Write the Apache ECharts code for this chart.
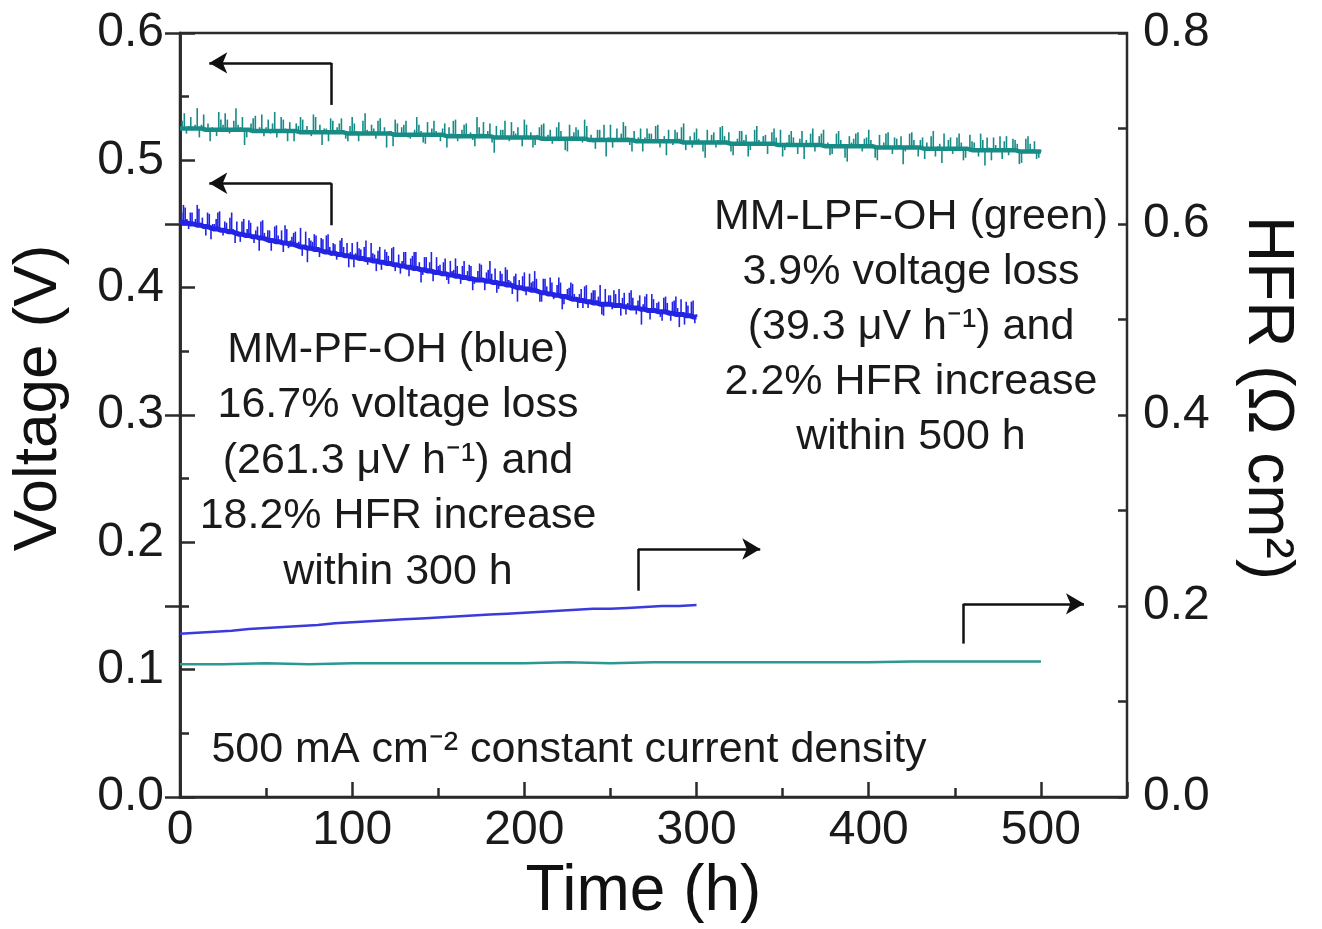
<!DOCTYPE html>
<html><head><meta charset="utf-8">
<script src="https://cdn.jsdelivr.net/npm/echarts@6/dist/echarts.min.js"></script>
<style>html,body{margin:0;padding:0;background:#fff}#c{width:1322px;height:929px}</style>
</head><body><div id="c"></div>
<script>
// ---- data ----
const timeTicks = [0, 100, 200, 300, 400, 500];
const voltageTicks = [0.0, 0.1, 0.2, 0.3, 0.4, 0.5, 0.6];
const hfrTicks = [0.0, 0.2, 0.4, 0.6, 0.8];

// MM-LPF-OH (green) cell voltage: [time h, baseline V, spike extreme V]
const greenVoltage = [[0,.525,.525],[2.5,.525,.537],[5,.525,.527],[7.5,.525,.524],[10,.525,.541],[12.5,.525,.528],[15,.524,.524],[17.5,.524,.515],[20,.524,.525],[22.5,.524,.538],[25,.524,.528],[27.5,.524,.532],[30,.524,.523],[32.5,.524,.541],[35,.524,.526],[37.5,.524,.512],[40,.524,.524],[42.5,.523,.533],[45,.523,.524],[47.5,.523,.536],
[50,.523,.526],[52.5,.523,.521],[55,.523,.538],[57.5,.523,.523],[60,.523,.532],[62.5,.523,.515],[65,.523,.524],[67.5,.523,.529],[70,.522,.534],[72.5,.522,.524],[75,.522,.521],[77.5,.522,.536],[80,.522,.522],[82.5,.522,.512],[85,.522,.525],[87.5,.522,.533],[90,.522,.523],[92.5,.522,.529],[95,.522,.522],[97.5,.521,.515],
[100,.521,.534],[102.5,.521,.523],[105,.521,.521],[107.5,.521,.537],[110,.521,.520],[112.5,.521,.525],[115,.521,.531],[117.5,.521,.521],[120,.521,.510],[122.5,.521,.523],[125,.520,.532],[127.5,.520,.521],[130,.520,.528],[132.5,.520,.518],[135,.520,.520],[137.5,.520,.534],[140,.520,.523],[142.5,.520,.513],[145,.520,.521],[147.5,.520,.531],
[150,.520,.520],[152.5,.520,.525],[155,.519,.510],[157.5,.519,.521],[160,.519,.532],[162.5,.519,.520],[165,.519,.528],[167.5,.519,.519],[170,.519,.516],[172.5,.519,.534],[175,.519,.521],[177.5,.519,.519],[180,.519,.529],[182.5,.518,.506],[185,.518,.519],[187.5,.518,.524],[190,.518,.518],[192.5,.518,.530],[195,.518,.521],[197.5,.518,.517],
[200,.518,.532],[202.5,.518,.518],[205,.518,.510],[207.5,.518,.520],[210,.517,.528],[212.5,.517,.518],[215,.517,.524],[217.5,.517,.516],[220,.517,.530],[222.5,.517,.517],[225,.517,.507],[227.5,.517,.519],[230,.517,.526],[232.5,.517,.518],[235,.517,.532],[237.5,.516,.516],[240,.516,.514],[242.5,.516,.524],[245,.516,.518],[247.5,.516,.503],
[250,.516,.528],[252.5,.516,.517],[255,.516,.516],[257.5,.516,.530],[260,.516,.518],[262.5,.516,.507],[265,.515,.515],[267.5,.515,.525],[270,.515,.518],[272.5,.515,.521],[275,.515,.514],[277.5,.515,.528],[280,.515,.515],[282.5,.515,.504],[285,.515,.516],[287.5,.515,.524],[290,.515,.517],[292.5,.514,.529],[295,.514,.514],[297.5,.514,.510],
[300,.514,.525],[302.5,.514,.515],[305,.514,.502],[307.5,.514,.514],[310,.514,.522],[312.5,.514,.516],[315,.514,.527],[317.5,.514,.514],[320,.513,.507],[322.5,.513,.514],[325,.513,.523],[327.5,.513,.516],[330,.513,.503],[332.5,.513,.513],[335,.513,.527],[337.5,.513,.514],[340,.513,.520],[342.5,.513,.512],[345,.513,.525],[347.5,.512,.512],
[350,.512,.503],[352.5,.512,.514],[355,.512,.523],[357.5,.512,.512],[360,.512,.517],[362.5,.512,.501],[365,.512,.513],[367.5,.512,.525],[370,.512,.512],[372.5,.512,.521],[375,.511,.513],[377.5,.511,.504],[380,.511,.511],[382.5,.511,.523],[385,.511,.512],[387.5,.511,.499],[390,.511,.514],[392.5,.511,.521],[395,.511,.511],[397.5,.511,.517],
[400,.511,.524],[402.5,.511,.510],[405,.510,.500],[407.5,.510,.511],[410,.510,.521],[412.5,.510,.510],[415,.510,.518],[417.5,.510,.512],[420,.510,.497],[422.5,.510,.510],[425,.510,.522],[427.5,.510,.511],[430,.510,.516],[432.5,.509,.501],[435,.509,.509],[437.5,.509,.523],[440,.509,.511],[442.5,.509,.498],[445,.509,.510],[447.5,.509,.518],
[450,.509,.509],[452.5,.509,.521],[455,.509,.500],[457.5,.509,.510],[460,.508,.515],[462.5,.508,.508],[465,.508,.521],[467.5,.508,.496],[470,.508,.510],[472.5,.508,.518],[475,.508,.508],[477.5,.508,.501],[480,.508,.519],[482.5,.508,.509],[485,.508,.516],[487.5,.507,.497],[490,.507,.507],[492.5,.507,.519],[495,.507,.509],[497.5,.507,.501],[500,.507,.508]];

// further green voltage excursions between the samples above: [time h, baseline V, spike extreme V]
const greenVoltageSpikes = [[1.25,.525,.531],[3.75,.525,.521],[6.25,.525,.534],[8.75,.525,.528],[11.25,.525,.518],[13.75,.525,.536],[16.25,.524,.529],[18.75,.524,.526],[21.25,.524,.519],[23.75,.524,.532],[26.25,.524,.537],[28.75,.524,.521],[31.25,.524,.531],[33.75,.524,.528],[36.25,.524,.534],[38.75,.524,.518],[41.25,.524,.529],[43.75,.523,.535],[46.25,.523,.526],[48.75,.523,.519],
[51.25,.523,.532],[53.75,.523,.529],[56.25,.523,.518],[58.75,.523,.534],[61.25,.523,.525],[63.75,.523,.530],[66.25,.523,.515],[68.75,.523,.527],[71.25,.522,.532],[73.75,.522,.527],[76.25,.522,.519],[78.75,.522,.534],[81.25,.522,.528],[83.75,.522,.525],[86.25,.522,.515],[88.75,.522,.531],[91.25,.522,.526],[93.75,.522,.533],[96.25,.522,.517],[98.75,.521,.527],
[101.25,.521,.529],[103.75,.521,.515],[106.25,.521,.531],[108.75,.521,.524],[111.25,.521,.528],[113.75,.521,.517],[116.25,.521,.533],[118.75,.521,.526],[121.25,.521,.523],[123.75,.520,.511],[126.25,.520,.529],[128.75,.520,.526],[131.25,.520,.531],[133.75,.520,.517],[136.25,.520,.524],[138.75,.520,.528],[141.25,.520,.514],[143.75,.520,.530],[146.25,.520,.525],[148.75,.520,.523],
[151.25,.520,.515],[153.75,.520,.529],[156.25,.519,.526],[158.75,.519,.531],[161.25,.519,.515],[163.75,.519,.524],[166.25,.519,.529],[168.75,.519,.522],[171.25,.519,.511],[173.75,.519,.526],[176.25,.519,.530],[178.75,.519,.523],[181.25,.519,.514],[183.75,.518,.527],[186.25,.518,.524],[188.75,.518,.531],[191.25,.518,.515],[193.75,.518,.523],[196.25,.518,.526],[198.75,.518,.511],
[201.25,.518,.528],[203.75,.518,.522],[206.25,.518,.512],[208.75,.518,.526],[211.25,.517,.529],[213.75,.517,.520],[216.25,.517,.513],[218.75,.517,.526],[221.25,.517,.523],[223.75,.517,.508],[226.25,.517,.528],[228.75,.517,.522],[231.25,.517,.524],[233.75,.517,.514],[236.25,.517,.527],[238.75,.516,.520],[241.25,.516,.509],[243.75,.516,.524],[246.25,.516,.528],[248.75,.516,.518],
[251.25,.516,.510],[253.75,.516,.525],[256.25,.516,.521],[258.75,.516,.527],[261.25,.516,.512],[263.75,.516,.523],[266.25,.515,.518],[268.75,.515,.507],[271.25,.515,.525],[273.75,.515,.521],[276.25,.515,.527],[278.75,.515,.510],[281.25,.515,.519],[283.75,.515,.524],[286.25,.515,.512],[288.75,.515,.522],[291.25,.515,.526],[293.75,.514,.508],[296.25,.514,.519],[298.75,.514,.522],
[301.25,.514,.517],[303.75,.514,.507],[306.25,.514,.524],[308.75,.514,.520],[311.25,.514,.510],[313.75,.514,.526],[316.25,.514,.519],[318.75,.514,.522],[321.25,.513,.504],[323.75,.513,.517],[326.25,.513,.523],[328.75,.513,.520],[331.25,.513,.508],[333.75,.513,.524],[336.25,.513,.516],[338.75,.513,.519],[341.25,.513,.505],[343.75,.513,.522],[346.25,.513,.518],[348.75,.512,.524],
[351.25,.512,.508],[353.75,.512,.520],[356.25,.512,.518],[358.75,.512,.505],[361.25,.512,.523],[363.75,.512,.516],[366.25,.512,.521],[368.75,.512,.507],[371.25,.512,.519],[373.75,.512,.524],[376.25,.511,.514],[378.75,.511,.505],[381.25,.511,.521],[383.75,.511,.516],[386.25,.511,.502],[388.75,.511,.519],[391.25,.511,.517],[393.75,.511,.522],[396.25,.511,.507],[398.75,.511,.518],
[401.25,.511,.516],[403.75,.510,.502],[406.25,.510,.520],[408.75,.510,.514],[411.25,.510,.522],[413.75,.510,.505],[416.25,.510,.517],[418.75,.510,.519],[421.25,.510,.507],[423.75,.510,.521],[426.25,.510,.516],[428.75,.510,.503],[431.25,.510,.518],[433.75,.509,.514],[436.25,.509,.519],[438.75,.509,.503],[441.25,.509,.513],[443.75,.509,.521],[446.25,.509,.516],[448.75,.509,.505],
[451.25,.509,.518],[453.75,.509,.514],[456.25,.509,.502],[458.75,.509,.520],[461.25,.508,.514],[463.75,.508,.503],[466.25,.508,.516],[468.75,.508,.518],[471.25,.508,.500],[473.75,.508,.512],[476.25,.508,.519],[478.75,.508,.515],[481.25,.508,.504],[483.75,.508,.517],[486.25,.508,.513],[488.75,.507,.498],[491.25,.507,.517],[493.75,.507,.513],[496.25,.507,.515],[498.75,.507,.502]];

// MM-PF-OH (blue) cell voltage: [time h, baseline V, spike extreme V]
const blueVoltage = [[0,.452,.452],[2,.451,.465],[4,.451,.454],[6,.450,.459],[8,.450,.449],[10,.449,.465],[12,.449,.451],[14,.448,.448],[16,.448,.459],[18,.447,.438],[20,.446,.450],[22,.446,.459],[24,.445,.446],[26,.445,.452],[28,.444,.444],[30,.444,.459],[32,.443,.435],[34,.442,.444],[36,.442,.452],[38,.441,.442],
[40,.441,.453],[42,.440,.440],[44,.440,.445],[46,.439,.429],[48,.439,.453],[50,.438,.440],[52,.437,.445],[54,.437,.437],[56,.436,.449],[58,.436,.437],[60,.435,.428],[62,.435,.446],[64,.434,.437],[66,.434,.443],[68,.433,.433],[70,.432,.447],[72,.432,.433],[74,.431,.420],[76,.431,.437],[78,.430,.442],
[80,.430,.430],[82,.429,.439],[84,.428,.430],[86,.428,.442],[88,.427,.425],[90,.427,.434],[92,.426,.427],[94,.426,.439],[96,.425,.425],[98,.425,.416],[100,.424,.435],[102,.424,.427],[104,.423,.431],[106,.423,.423],[108,.422,.437],[110,.422,.423],[112,.421,.427],[114,.421,.413],[116,.420,.432],[118,.420,.420],
[120,.419,.428],[122,.419,.421],[124,.418,.432],[126,.418,.418],[128,.417,.411],[130,.417,.428],[132,.416,.417],[134,.416,.423],[136,.415,.428],[138,.415,.415],[140,.414,.404],[142,.414,.424],[144,.413,.415],[146,.413,.428],[148,.412,.413],[150,.412,.417],[152,.411,.411],[154,.411,.423],[156,.410,.403],[158,.410,.413],
[160,.409,.423],[162,.409,.409],[164,.408,.417],[166,.408,.409],[168,.407,.418],[170,.407,.398],[172,.406,.408],[174,.406,.419],[176,.406,.406],[178,.405,.412],[180,.405,.421],[182,.404,.405],[184,.404,.396],[186,.403,.413],[188,.403,.403],[190,.402,.414],[192,.402,.405],[194,.401,.409],[196,.400,.389],[198,.400,.401],
[200,.399,.412],[202,.399,.399],[204,.398,.404],[206,.398,.413],[208,.397,.398],[210,.396,.389],[212,.396,.407],[214,.395,.395],[216,.395,.404],[218,.394,.396],[220,.394,.408],[222,.393,.383],[224,.393,.393],[226,.392,.400],[228,.391,.403],[230,.391,.392],[232,.390,.395],[234,.390,.384],[236,.389,.402],[238,.389,.389],
[240,.388,.398],[242,.388,.390],[244,.387,.402],[246,.387,.378],[248,.387,.388],[250,.387,.394],[252,.386,.398],[254,.386,.386],[256,.386,.378],[258,.385,.396],[260,.385,.388],[262,.384,.398],[264,.384,.384],[266,.384,.390],[268,.383,.371],[270,.383,.393],[272,.382,.383],[274,.382,.395],[276,.382,.382],[278,.381,.389],
[280,.381,.374],[282,.381,.393],[284,.380,.382],[286,.380,.389],[288,.379,.393],[290,.379,.369],[292,.379,.380],[294,.378,.389],[296,.378,.378],[298,.377,.390],[300,.377,.379]];

// further blue voltage excursions between the samples above: [time h, baseline V, spike extreme V]
const blueVoltageSpikes = [[1,.452,.459],[3,.451,.463],[5,.451,.446],[7,.450,.459],[9,.450,.454],[11,.449,.462],[13,.449,.455],[15,.448,.441],[17,.448,.458],[19,.447,.450],[21,.446,.454],[23,.446,.460],[25,.445,.441],[27,.445,.451],[29,.444,.455],[31,.444,.446],[33,.443,.452],[35,.442,.436],[37,.442,.454],[39,.441,.446],
[41,.441,.451],[43,.440,.435],[45,.440,.448],[47,.439,.452],[49,.439,.443],[51,.438,.445],[53,.437,.429],[55,.437,.448],[57,.436,.441],[59,.436,.445],[61,.435,.449],[63,.435,.431],[65,.434,.440],[67,.434,.444],[69,.433,.436],[71,.432,.425],[73,.432,.444],[75,.431,.439],[77,.431,.436],[79,.430,.441],
[81,.430,.424],[83,.429,.438],[85,.428,.441],[87,.428,.432],[89,.427,.435],[91,.427,.422],[93,.426,.437],[95,.426,.432],[97,.425,.435],[99,.425,.428],[101,.424,.416],[103,.424,.436],[105,.423,.430],[107,.423,.432],[109,.422,.418],[111,.422,.435],[113,.421,.426],[115,.421,.429],[117,.420,.414],[119,.420,.430],
[121,.419,.425],[123,.419,.431],[125,.418,.413],[127,.418,.426],[129,.417,.421],[131,.417,.428],[133,.416,.409],[135,.416,.425],[137,.415,.428],[139,.415,.420],[141,.414,.410],[143,.414,.424],[145,.413,.420],[147,.413,.405],[149,.412,.424],[151,.412,.418],[153,.411,.420],[155,.411,.406],[157,.410,.421],[159,.410,.414],
[161,.409,.417],[163,.409,.403],[165,.408,.421],[167,.408,.413],[169,.407,.417],[171,.407,.403],[173,.406,.413],[175,.406,.418],[177,.406,.398],[179,.405,.414],[181,.405,.411],[183,.404,.415],[185,.404,.399],[187,.403,.411],[189,.403,.416],[191,.402,.406],[193,.402,.395],[195,.401,.411],[197,.400,.406],[199,.400,.409],
[201,.399,.394],[203,.399,.411],[205,.398,.405],[207,.398,.407],[209,.397,.389],[211,.396,.407],[213,.396,.401],[215,.395,.408],[217,.395,.391],[219,.394,.402],[221,.394,.404],[223,.393,.387],[225,.393,.399],[227,.392,.404],[229,.391,.395],[231,.391,.384],[233,.390,.399],[235,.390,.401],[237,.389,.384],[239,.389,.396],
[241,.388,.398],[243,.388,.393],[245,.387,.379],[247,.387,.399],[249,.387,.394],[251,.387,.383],[253,.386,.395],[255,.386,.399],[257,.386,.392],[259,.385,.379],[261,.385,.396],[263,.384,.392],[265,.384,.379],[267,.384,.394],[269,.383,.387],[271,.383,.395],[273,.382,.375],[275,.382,.391],[277,.382,.388],[279,.381,.377],
[281,.381,.392],[283,.381,.388],[285,.380,.374],[287,.380,.390],[289,.379,.384],[291,.379,.391],[293,.379,.371],[295,.378,.386],[297,.378,.389],[299,.377,.372]];

// HFR [time h, ohm cm2]
const blueHFR = [[0,.171],[10,.172],[20,.173],[30,.174],[40,.176],[50,.177],[60,.178],[70,.179],[80,.180],[90,.182],[100,.183],[110,.184],[120,.185],[130,.186],[140,.187],[150,.188],[160,.189],[170,.190],[180,.191],[190,.192],[200,.193],[210,.194],[220,.195],[230,.196],[240,.197],[250,.197],[260,.198],[270,.199],[280,.200],[290,.200],[300,.201]];
const greenHFR = [[0,.139],[25,.139],[50,.140],[75,.139],[100,.140],[125,.140],[150,.140],[175,.140],[200,.140],[225,.141],[250,.140],[275,.141],[300,.141],[325,.141],[350,.141],[375,.141],[400,.141],[425,.142],[450,.142],[475,.142],[500,.142]];

const blueNote = ['MM-PF-OH (blue)', '16.7% voltage loss', '(261.3 μV h⁻¹) and', '18.2% HFR increase', 'within 300 h'];
const greenNote = ['MM-LPF-OH (green)', '3.9% voltage loss', '(39.3 μV h⁻¹) and', '2.2% HFR increase', 'within 500 h'];
const conditionNote = '500 mA cm⁻² constant current density';

// ---- chart ----
const FONT = '"Liberation Sans", Arial, Helvetica, sans-serif';
const AXC = '#2b2b2b';
const TEAL = '#178b86';
const BLUE = '#2323e4';

function arrowLines(vx, yBottom, yTop, tipX) {
  return [
    [{coord: [vx, yBottom], symbol: 'none'}, {coord: [vx, yTop], symbol: 'none'}],
    [{coord: [vx, yTop], symbol: 'none'}, {coord: [tipX, yTop], symbol: 'arrow'}]
  ];
}
const markStyle = {
  silent: true, animation: false,
  symbol: ['none', 'arrow'], symbolSize: [16, 18],
  label: {show: false},
  lineStyle: {color: '#111', width: 2.5, type: 'solid'},
  emphasis: {disabled: true}
};
function spikeSeries(name, rows, color) {
  return {
    type: 'custom', name: name, data: rows, xAxisIndex: 0, yAxisIndex: 0, silent: true, z: 3,
    encode: {x: 0, y: [1, 2]},
    renderItem: (params, api) => {
      const a = api.coord([api.value(0), api.value(1)]);
      const b = api.coord([api.value(0), api.value(2)]);
      return {type: 'line', shape: {x1: a[0], y1: a[1], x2: b[0], y2: b[1]},
        style: {stroke: color, lineWidth: 1.6}};
    }
  };
}
const tickStyle = {color: AXC, width: 2.5};

const chart = echarts.init(document.getElementById('c'), null, {renderer: 'canvas'});
chart.setOption({
  animation: false,
  backgroundColor: '#fff',
  grid: {left: 180, right: 195, top: 33, bottom: 132, show: true, borderColor: AXC, borderWidth: 2.5},
  xAxis: [{
    type: 'value', min: 0, max: 550, interval: 100,
    name: 'Time (h)', nameLocation: 'middle', nameGap: 50,
    nameTextStyle: {fontFamily: FONT, fontSize: 64, color: '#111', padding: [0, 20, 0, 0]},
    axisLine: {lineStyle: tickStyle},
    axisTick: {inside: true, length: 15, lineStyle: tickStyle},
    splitLine: {show: false},
    axisLabel: {fontFamily: FONT, fontSize: 48, color: '#1a1a1a', margin: 10,
      formatter: v => timeTicks.includes(v) ? String(v) : ''}
  }, {
    type: 'value', min: 0, max: 550, interval: 50, position: 'bottom',
    axisLine: {show: false}, axisLabel: {show: false}, splitLine: {show: false},
    axisTick: {inside: true, length: 9, lineStyle: tickStyle}
  }],
  yAxis: [{
    type: 'value', min: 0, max: 0.6, interval: 0.1,
    name: 'Voltage (V)', nameLocation: 'middle', nameGap: 110, nameRotate: 90,
    nameTextStyle: {fontFamily: FONT, fontSize: 62, color: '#111', padding: [0, 0, 0, 34]},
    axisLine: {show: true, lineStyle: tickStyle},
    axisTick: {inside: true, length: 15, lineStyle: tickStyle},
    splitLine: {show: false},
    axisLabel: {fontFamily: FONT, fontSize: 48, color: '#1a1a1a', margin: 16,
      formatter: v => voltageTicks.some(t => Math.abs(t - v) < 1e-9) ? v.toFixed(1) : ''}
  }, {
    type: 'value', min: 0, max: 0.8, interval: 0.2, position: 'right',
    name: 'HFR (Ω cm²)', nameLocation: 'middle', nameGap: 108, nameRotate: -90,
    nameTextStyle: {fontFamily: FONT, fontSize: 64, color: '#111', padding: [0, 34, 0, 0]},
    axisLine: {show: true, lineStyle: tickStyle},
    axisTick: {inside: true, length: 15, lineStyle: tickStyle},
    splitLine: {show: false},
    axisLabel: {fontFamily: FONT, fontSize: 48, color: '#1a1a1a', margin: 16,
      formatter: v => hfrTicks.some(t => Math.abs(t - v) < 1e-9) ? v.toFixed(1) : ''}
  }, {
    type: 'value', min: 0, max: 0.6, interval: 0.05, position: 'left',
    axisLine: {show: false}, axisLabel: {show: false}, splitLine: {show: false},
    axisTick: {inside: true, length: 9, lineStyle: tickStyle}
  }, {
    type: 'value', min: 0, max: 0.8, interval: 0.1, position: 'right',
    axisLine: {show: false}, axisLabel: {show: false}, splitLine: {show: false},
    axisTick: {inside: true, length: 9, lineStyle: tickStyle}
  }],
  series: [
    {type: 'line', name: 'MM-LPF-OH voltage', data: greenVoltage.map(r => [r[0], r[1]]), xAxisIndex: 0, yAxisIndex: 0,
      showSymbol: false, symbol: 'none', silent: true, lineStyle: {color: TEAL, width: 4.5}, z: 4,
      markLine: Object.assign({}, markStyle, {data: [
        ...arrowLines(88, 0.5435, 0.5765, 17),
        ...arrowLines(88, 0.449, 0.482, 17)
      ]})},
    spikeSeries('MM-LPF-OH voltage spikes', greenVoltage, TEAL),
    spikeSeries('MM-LPF-OH voltage spikes b', greenVoltageSpikes, TEAL),
    {type: 'line', name: 'MM-PF-OH voltage', data: blueVoltage.map(r => [r[0], r[1]]), xAxisIndex: 0, yAxisIndex: 0,
      showSymbol: false, symbol: 'none', silent: true, lineStyle: {color: BLUE, width: 5}, z: 4},
    spikeSeries('MM-PF-OH voltage spikes', blueVoltage, BLUE),
    spikeSeries('MM-PF-OH voltage spikes b', blueVoltageSpikes, BLUE),
    {type: 'line', name: 'MM-PF-OH HFR', data: blueHFR, xAxisIndex: 0, yAxisIndex: 1,
      showSymbol: false, symbol: 'none', silent: true, lineStyle: {color: '#3b3bdc', width: 2.5}, z: 3,
      markLine: Object.assign({}, markStyle, {data: [
        ...arrowLines(266, 0.216, 0.2597, 337),
        ...arrowLines(455, 0.1606, 0.2023, 525)
      ]})},
    {type: 'line', name: 'MM-LPF-OH HFR', data: greenHFR, xAxisIndex: 0, yAxisIndex: 1,
      showSymbol: false, symbol: 'none', silent: true, lineStyle: {color: '#2a9893', width: 2.5}, z: 3}
  ],
  graphic: [
    {type: 'text', x: 398, y: 322, silent: true,
      style: {text: blueNote.join('\n'), font: '43px ' + FONT, fill: '#1a1a1a', align: 'center', verticalAlign: 'top', lineHeight: 55.5}},
    {type: 'text', x: 911, y: 190, silent: true,
      style: {text: greenNote.join('\n'), font: '43px ' + FONT, fill: '#1a1a1a', align: 'center', verticalAlign: 'top', lineHeight: 55}},
    {type: 'text', x: 569, y: 750, silent: true,
      style: {text: conditionNote, font: '43px ' + FONT, fill: '#1a1a1a', align: 'center', verticalAlign: 'middle'}}
  ]
});
</script></body></html>
